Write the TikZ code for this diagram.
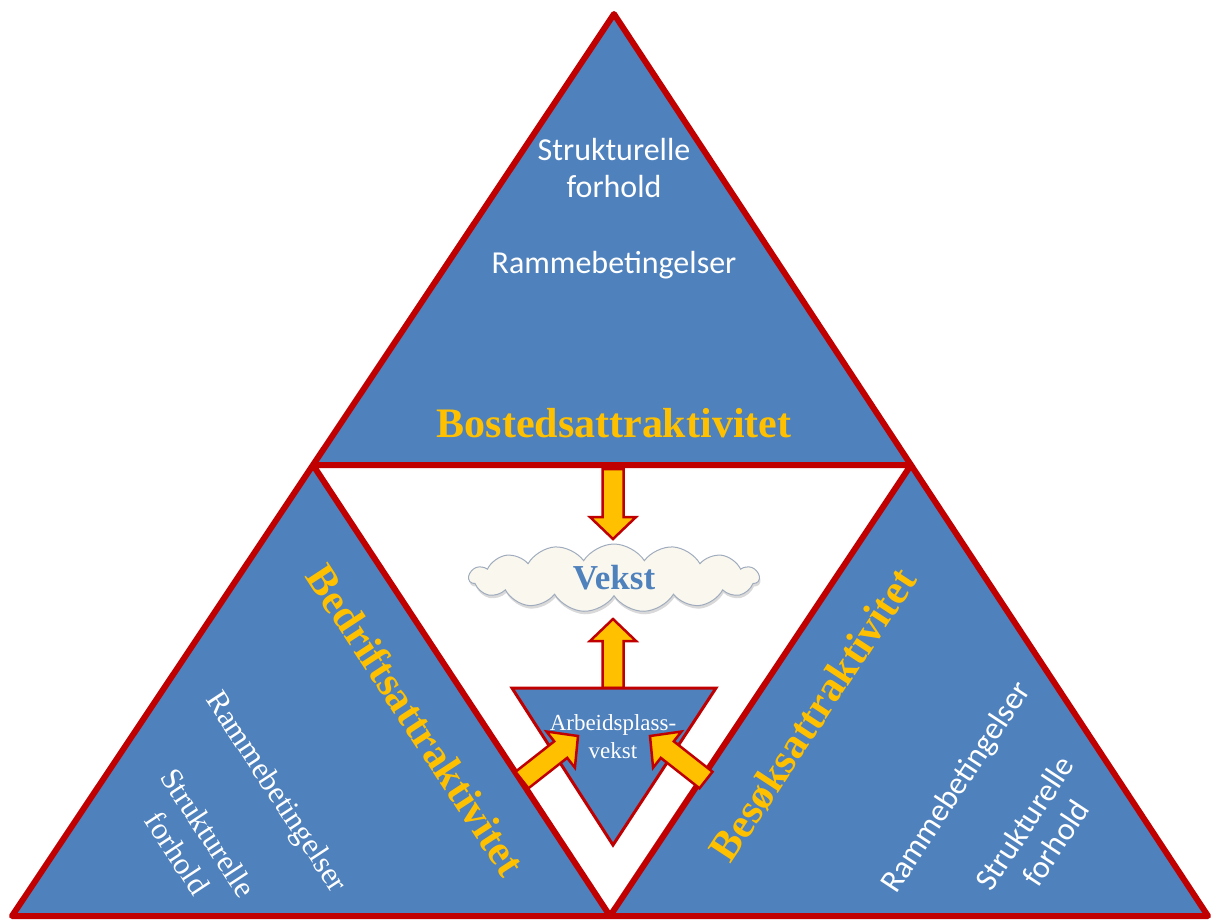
\documentclass[tikz,border=0pt]{standalone}
\usepackage{fontspec}
\setmainfont{Liberation Serif}
\newfontfamily\calib{Carlito}
\usepackage{tikz}
\usetikzlibrary{calc}
\usetikzlibrary{shapes.symbols}
\usetikzlibrary{shadows}
\definecolor{partblue}{RGB}{79,129,189}
\definecolor{edgered}{RGB}{192,0,0}
\definecolor{gold}{RGB}{255,192,0}
\definecolor{cloudfill}{RGB}{250,248,238}
\definecolor{cloudedge}{RGB}{160,172,190}
\tikzset{
  part/.style={fill=partblue, draw=edgered, line width=6pt, line join=round},
  title/.style={text=gold, inner sep=0pt, font=\fontsize{42}{48}\selectfont\bfseries},
  note/.style={text=white, align=center, inner sep=0pt},
  fat/.style={fill=gold, draw=edgered, line width=2.5pt, line join=miter},
}
% block arrow from #1 (tail) to #2 (tip)
\newcommand{\fatarrow}[2]{%
  \coordinate (#1#2n) at ($(#2)!22pt!(#1)$);
  \draw[fat] ($(#1)!10.5pt!90:(#2)$) -- ($(#1#2n)!10.5pt!-90:(#1)$)
    -- ($(#1#2n)!23pt!-90:(#1)$) -- (#2) -- ($(#1#2n)!23pt!90:(#1)$)
    -- ($(#1#2n)!10.5pt!90:(#1)$) -- ($(#1)!10.5pt!-90:(#2)$) -- cycle;}

\begin{document}
\begin{tikzpicture}[x=1pt, y=-1pt]
        \useasboundingbox (0,0) rectangle (1216,922);

        \coordinate (A) at (614,14);
        \coordinate (L) at (12,916);
        \coordinate (R) at (1208,916);
        \coordinate (ML) at ($(A)!0.5!(L)$);
        \coordinate (MR) at ($(A)!0.5!(R)$);
        \coordinate (MB) at ($(L)!0.5!(R)$);

        % the three parts
        \draw[part] (A) -- (ML) -- (MR) -- cycle
                    (ML) -- (L) -- (MB) -- cycle
                    (MR) -- (MB) -- (R) -- cycle;

        % job growth triangle
        \coordinate (W1) at (512,688);
        \coordinate (W2) at (716,688);
        \coordinate (W3) at (613,845);
        \coordinate (wt) at (613,688);
        \coordinate (cb) at (613,619);
        \fatarrow{wt}{cb}
        \draw[part, line width=3pt, line join=miter] (W1) -- (W2) -- (W3) -- cycle;
        \node[note, font=\fontsize{23}{28}\selectfont] (jobs) at (613,737) {Arbeidsplass-\\vekst};

        % arrows into the middle
        \coordinate (bt) at (613,469);
        \coordinate (ct) at (613,539);
        \fatarrow{bt}{ct}
        \coordinate (lt) at (522,780);
        \coordinate (lj) at (578,736);
        \fatarrow{lt}{lj}
        \coordinate (rt) at (706,780);
        \coordinate (rj) at (650,736);
        \fatarrow{rt}{rj}

        \node[cloud, cloud puffs=15, cloud puff arc=115, aspect=4.3,
              minimum width=290pt, minimum height=68pt, inner sep=0pt,
              fill=cloudfill, draw=cloudedge, line width=1pt,
              drop shadow={opacity=0.3, shadow xshift=1pt, shadow yshift=-3pt},
              text=partblue, font=\fontsize{35}{40}\selectfont\bfseries] (vekst) at (614,578) {Vekst};

        % top part
        \node[note, font=\calib\fontsize{32}{37}\selectfont] (topfacts) at (614,168) {Strukturelle\\forhold};
        \node[note, anchor=base, font=\calib\fontsize{32}{37}\selectfont] (topframe) at (614,273) {Rammebetingelser};
        \node[title, anchor=base] (bosted) at (614,437) {Bostedsattraktivitet};

        % left part
        \node[title, rotate=-56.7] (bedrift) at (416,720) {Bedriftsattraktivitet};
        \node[note, rotate=-56.7, font=\fontsize{31}{37}\selectfont] (leftframe) at (275,793) {Rammebetingelser};
        \node[note, rotate=-56.7, font=\fontsize{31}{37}\selectfont] (leftfacts) at (193,843) {Strukturelle\\forhold};

        % right part
        \node[title, rotate=56.7] (besok) at (813,715) {Besøksattraktivitet};
        \node[note, rotate=56.7, font=\calib\fontsize{32}{37}\selectfont] (rightframe) at (957,788) {Rammebetingelser};
        \node[note, rotate=56.7, font=\calib\fontsize{32}{37}\selectfont] (rightfacts) at (1040,833) {Strukturelle\\forhold};
\end{tikzpicture}
\end{document}
